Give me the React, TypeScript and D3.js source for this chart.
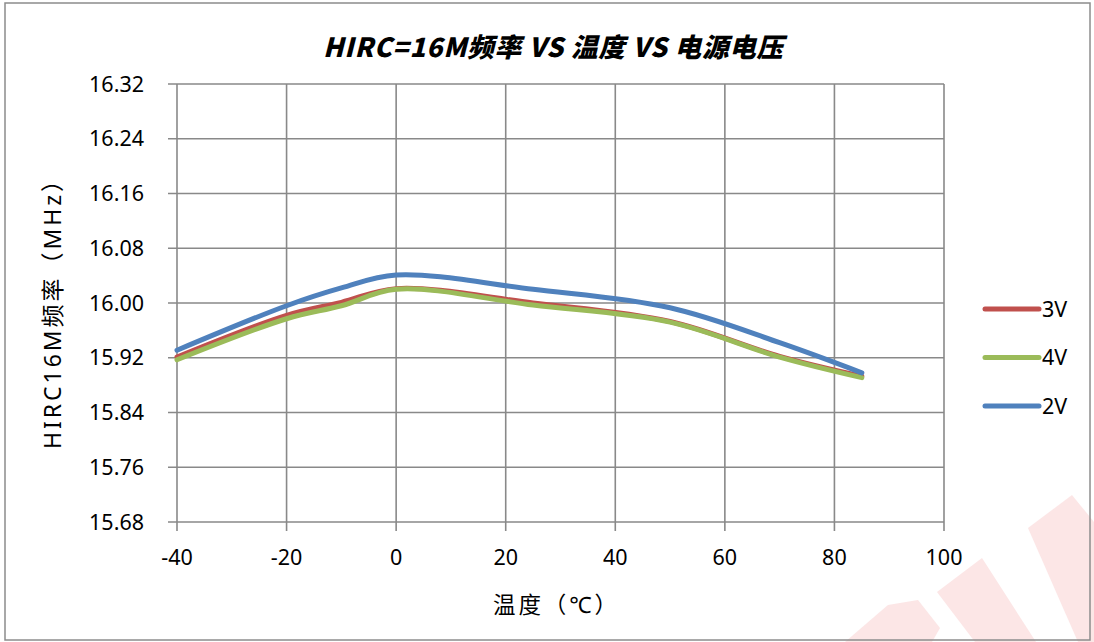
import React from "react";
import * as d3 from "d3";

const temps = [-40, -20, -10, 0, 25, 50, 70, 85];
const v3 = [15.921, 15.982, 16.001, 16.021, 16.0, 15.973, 15.922, 15.893];
const v4 = [15.917, 15.977, 15.996, 16.02, 15.997, 15.972, 15.921, 15.891];
const v2 = [15.931, 15.996, 16.022, 16.041, 16.02, 15.993, 15.942, 15.898];

const seriesNames = ["3V", "4V", "2V"];
const seriesValues = [v3, v4, v2];
const seriesColors = ["#C0504D", "#9BBB59", "#4F81BD"];

const xTicks = [-40, -20, 0, 20, 40, 60, 80, 100];
const yTicks = [15.68, 15.76, 15.84, 15.92, 16.0, 16.08, 16.16, 16.24, 16.32];

const title = "HIRC=16M频率 VS 温度 VS 电源电压";
const yTitle = "HIRC16M频率（MHz）";
const xTitle = "温度（℃）";

const W = 1094;
const H = 642;
const grid = "#898989";
const font = "'Noto Sans', 'Noto Sans CJK SC', sans-serif";

export default function App() {
  const x = d3.scaleLinear().domain([-40, 100]).range([177, 944]);
  const y = d3.scaleLinear().domain([15.68, 16.32]).range([522, 84]);
  const line = d3
    .line<number>()
    .x((_, i) => x(temps[i]))
    .y((d) => y(d))
    .curve(d3.curveCatmullRom.alpha(0.5));

  return (
    <svg
      width={W}
      height={H}
      style={{ position: "absolute", left: 0, top: 0, display: "block", background: "#fff" }}
    >
      {/* watermark */}
      <g fill="#fad2d2" opacity={0.55}>
        <polygon points="1028,528 1072,495 1094,522 1094,642 1078,642" />
        <polygon points="937,592 982,558 1036,642 975,642" />
        <polygon points="845,642 888,605 918,600 940,628 932,642" />
      </g>
      <rect x={5} y={3} width={1085} height={637} fill="none" stroke="#8c8c8c" strokeWidth={1.5} />

      {/* gridlines */}
      {yTicks.map((t) => (
        <line key={"gy" + t} x1={168} x2={944} y1={y(t)} y2={y(t)} stroke={grid} strokeWidth={1.6} />
      ))}
      {xTicks.map((t) => (
        <line key={"gx" + t} x1={x(t)} x2={x(t)} y1={84} y2={531} stroke={grid} strokeWidth={1.6} />
      ))}

      {/* y tick labels */}
      {yTicks.map((t) => (
        <text
          key={"ty" + t}
          x={144}
          y={y(t)}
          dy="0.36em"
          textAnchor="end"
          fontFamily={font}
          fontSize={21.5}
          fill="#000"
        >
          {t.toFixed(2)}
        </text>
      ))}
      {/* x tick labels */}
      {xTicks.map((t) => (
        <text
          key={"tx" + t}
          x={x(t)}
          y={557}
          dy="0.36em"
          textAnchor="middle"
          fontFamily={font}
          fontSize={21.5}
          fill="#000"
        >
          {t}
        </text>
      ))}

      {/* series */}
      {seriesValues.map((vals, i) => (
        <path
          key={seriesNames[i]}
          d={line(vals) || ""}
          fill="none"
          stroke={seriesColors[i]}
          strokeWidth={5}
          strokeLinecap="round"
          strokeLinejoin="round"
        />
      ))}

      {/* legend */}
      {seriesNames.map((n, i) => (
        <g key={"lg" + n} transform={`translate(0, ${309 + i * 48.5})`}>
          <line x1={985} x2={1039} y1={0} y2={0} stroke={seriesColors[i]} strokeWidth={5} strokeLinecap="round" />
          <text x={1042} y={0} dy="0.36em" fontFamily={font} fontSize={21.5} fill="#000">
            {n}
          </text>
        </g>
      ))}

      {/* titles */}
      <text
        x={553}
        y={47}
        dy="0.36em"
        textAnchor="middle"
        fontFamily="'Noto Sans CJK SC', sans-serif"
        fontWeight="900"
        fontStyle="italic"
        fontSize={26.5}
        textLength={460}
        lengthAdjust="spacing"
        fill="#000"
      >
        {title}
      </text>
      <text
        transform={`translate(53, 309) rotate(-90)`}
        dy="0.36em"
        textAnchor="middle"
        fontFamily={font}
        fontSize={23}
        textLength={280}
        lengthAdjust="spacing"
        fill="#000"
      >
        {yTitle}
      </text>
      <text
        x={555}
        y={605}
        dy="0.36em"
        textAnchor="middle"
        fontFamily={font}
        fontSize={22.5}
        textLength={124}
        lengthAdjust="spacing"
        fill="#000"
      >
        {xTitle}
      </text>
    </svg>
  );
}
